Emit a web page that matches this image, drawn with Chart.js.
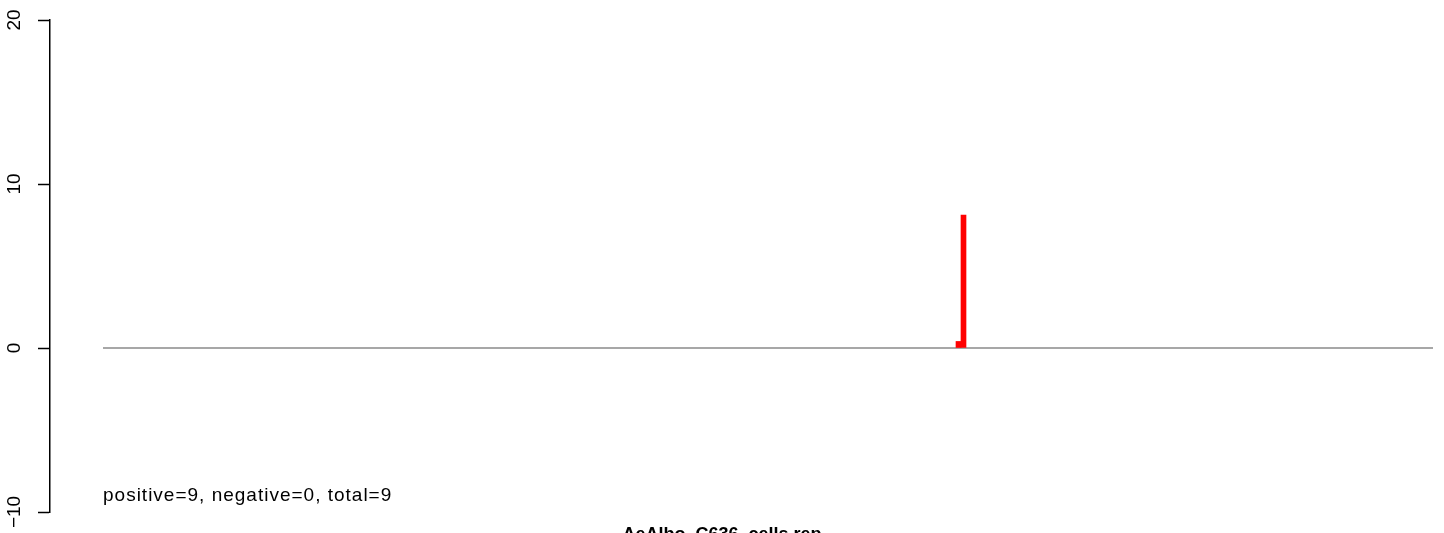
<!DOCTYPE html>
<html>
<head>
<meta charset="utf-8">
<script src="https://cdn.jsdelivr.net/npm/chart.js@4.4.1/dist/chart.umd.min.js"></script>
<style>
  html, body { margin: 0; padding: 0; background: #fff; }
  #wrap { width: 1444px; height: 533px; }
</style>
</head>
<body>
<div id="wrap"><canvas id="c"></canvas></div>
<script>
// bins along the reference line (bar centres) and their heights
const binCenters = [171.1, 172.1];
const binHeights = [0.4, 8.1];
const baseline = [0, 266];      // extent of the grey zero line, in bin units
const yTicks = [-10, 0, 10, 20];
const title = 'AeAlbo_C636_cells.rep';
const note = 'positive=9, negative=0, total=9';

const font = "'Liberation Sans', Arial, Helvetica, sans-serif";

// note text in the lower left of the plot
const notePlugin = {
    id: 'note',
    afterDraw(chart) {
        const ctx = chart.ctx;
        const x = chart.scales.x.getPixelForValue(baseline[0]);
        const y = chart.scales.y.getPixelForValue(-9);
        ctx.save();
        ctx.font = '19px ' + font;
        ctx.letterSpacing = '1px';
        ctx.fillStyle = '#000';
        ctx.textAlign = 'left';
        ctx.textBaseline = 'middle';
        ctx.fillText(note, x, y);
        ctx.restore();
    }
};

new Chart(document.getElementById('c'), {
    type: 'bar',
    data: {
        datasets: [
            {
                type: 'line',
                data: baseline.map(x => ({ x: x, y: 0 })),
                borderColor: '#8a8a8a',
                borderWidth: 1.5,
                pointRadius: 0,
                order: 2
            },
            {
                data: binCenters.map((x, i) => ({ x: x, y: binHeights[i] })),
                backgroundColor: '#ff0000',
                borderWidth: 0,
                barThickness: 5,
                order: 1
            }
        ]
    },
    options: {
        responsive: true,
        maintainAspectRatio: false,
        animation: false,
        layout: { padding: { top: 20, left: 0, right: 0, bottom: 0 } },
        plugins: {
            legend: { display: false },
            tooltip: { enabled: false },
            title: {
                display: true,
                text: title,
                position: 'bottom',
                color: '#000',
                font: { family: font, size: 18, weight: 'bold', lineHeight: 1.2 },
                padding: { top: 12, bottom: -12.6 }
            }
        },
        scales: {
            x: {
                type: 'linear',
                display: false,
                offset: false,
                min: -10.6,
                max: 268.2
            },
            y: {
                min: -10,
                max: 20,
                afterFit(scale) { scale.width = 50; },
                afterBuildTicks(scale) { scale.ticks = yTicks.map(v => ({ value: v })); },
                border: { display: true, color: '#000', width: 1.5 },
                grid: {
                    drawOnChartArea: false,
                    drawTicks: true,
                    tickLength: 12,
                    tickWidth: 1.5,
                    tickColor: '#000'
                },
                ticks: {
                    minRotation: 90,
                    maxRotation: 90,
                    crossAlign: 'center',
                    padding: 7,
                    color: '#000',
                    font: { family: font, size: 19 },
                    callback: v => String(v).replace('-', '\u2212')
                }
            }
        }
    },
    plugins: [notePlugin]
});
</script>
</body>
</html>
